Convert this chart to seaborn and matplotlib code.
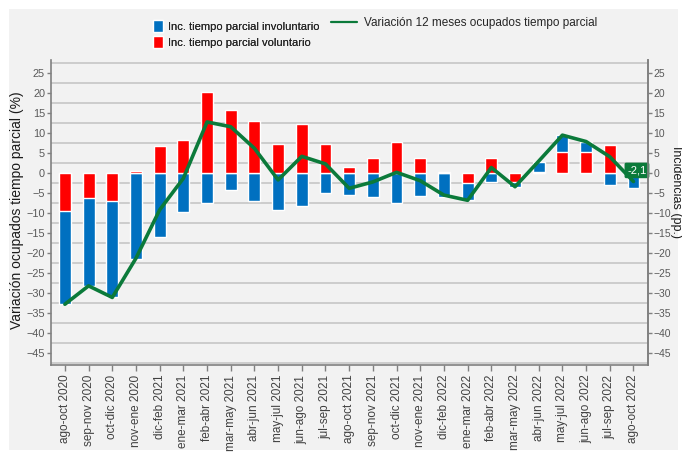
# -*- coding: utf-8 -*-
import numpy as np
import matplotlib
matplotlib.use("Agg")
import matplotlib.pyplot as plt
from matplotlib.patches import Patch, Rectangle
from matplotlib.lines import Line2D
import seaborn as sns

# Data
periodos = [
    "ago-oct 2020", "sep-nov 2020", "oct-dic 2020", "nov-ene 2020",
    "dic-feb 2021", "ene-mar 2021", "feb-abr 2021", "mar-may 2021",
    "abr-jun 2021", "may-jul 2021", "jun-ago 2021", "jul-sep 2021",
    "ago-oct 2021", "sep-nov 2021", "oct-dic 2021", "nov-ene 2021",
    "dic-feb 2022", "ene-mar 2022", "feb-abr 2022", "mar-may 2022",
    "abr-jun 2022", "may-jul 2022", "jun-ago 2022", "jul-sep 2022",
    "ago-oct 2022",
]
involuntario = [-23.4, -22.1, -24.2, -21.4, -15.9, -9.8, -7.5, -4.3,
                -6.9, -9.1, -8.1, -4.9, -5.4, -5.9, -7.4, -5.7,
                -5.9, -4.3, -2.3, -1.1, 2.5, 4.1, 2.4, -3.0, -3.8]
voluntario = [-9.4, -6.1, -6.9, 0.6, 6.8, 8.4, 20.3, 15.9,
              13.1, 7.4, 12.4, 7.3, 1.6, 3.8, 7.7, 3.8,
              0.4, -2.5, 3.7, -2.3, 0.4, 5.4, 5.4, 7.0, 1.7]
variacion_12m = [-32.8, -28.2, -31.1, -21.3, -9.2, -1.3, 12.8, 11.6,
                 6.2, -1.7, 4.2, 2.3, -3.8, -2.2, 0.2, -1.9,
                 -5.5, -6.8, 1.4, -3.4, 3.0, 9.5, 7.9, 4.1, -2.1]
ultimo_label = "-2,1"

AZUL = "#0070C0"
ROJO = "#FF0000"
VERDE = "#0B7A3A"
FONDO = "#F2F2F2"

sns.set_theme(style="white")
plt.rcParams["font.family"] = ["Liberation Sans", "DejaVu Sans"]

fig = plt.figure(figsize=(6.82, 4.57), dpi=100, facecolor="white")
fig.patches.append(Rectangle((9 / 682, 1 - 450 / 457), 669 / 682, 441 / 457,
                             transform=fig.transFigure, facecolor=FONDO,
                             edgecolor="none", zorder=-10))
ax = fig.add_axes([0.0743, 0.2013, 0.8754, 0.6674])
ax.set_facecolor(FONDO)

# diverging stack: red at the base, blue beyond it when both share sign
inv = np.array(involuntario)
vol = np.array(voluntario)
azul_tope = np.where(np.sign(inv) == np.sign(vol), inv + vol, inv)

sns.barplot(x=periodos, y=azul_tope, color=AZUL, saturation=1, width=0.5,
            ax=ax, zorder=3)
sns.barplot(x=periodos, y=vol, color=ROJO, saturation=1, width=0.5,
            ax=ax, zorder=3)
sns.lineplot(x=np.arange(len(periodos)), y=variacion_12m, color=VERDE,
             lw=2.6, ax=ax, zorder=5)

ax.set_xlim(-0.6, len(periodos) - 0.4)
ax.set_ylim(-48, 28.3)
ax.set_yticks(np.arange(-45, 30, 5))
ax.set_yticks(np.arange(-47.5, 30, 5), minor=True)
ax.grid(False)
ax.grid(which="minor", axis="y", color="#C6C6C6", lw=1.2, zorder=0)
ax.set_axisbelow(True)

ax.set_xticks(range(len(periodos)))
ax.set_xticklabels(periodos, rotation=90, fontsize=8.5, color="#404040", va="top")
ax.tick_params(axis="x", length=4, width=1, color="#808080", pad=3, bottom=True)
ax.tick_params(axis="y", which="major", length=3, width=1, color="#808080",
               labelsize=7.8, labelcolor="#595959", pad=1, left=True)
ax.tick_params(axis="y", which="minor", length=0)
ax.set_xlabel("")
ax.set_ylabel("")

ax.spines["top"].set_visible(False)
for s in ["left", "bottom", "right"]:
    ax.spines[s].set_color("#808080")
    ax.spines[s].set_linewidth(1.2)

ax2 = ax.twinx()
ax2.set_ylim(ax.get_ylim())
ax2.set_yticks(np.arange(-45, 30, 5))
ax2.grid(False)
ax2.tick_params(axis="y", length=3, width=1, color="#808080", labelsize=7.5,
                labelcolor="#595959", pad=1, right=True)
for s in ["top", "left", "bottom"]:
    ax2.spines[s].set_visible(False)
ax2.spines["right"].set_color("#808080")
ax2.spines["right"].set_linewidth(1.2)

# last value label
ax.annotate(ultimo_label, xy=(len(periodos) - 1, variacion_12m[-1]),
            xytext=(2.5, 8), textcoords="offset points", ha="center", va="center",
            color="white", fontsize=8, zorder=10, annotation_clip=False,
            bbox=dict(boxstyle="round,pad=0.25,rounding_size=0.15",
                      fc=VERDE, ec="none"))

fig.text(17 / 682, 1 - 210 / 457, "Variación ocupados tiempo parcial (%)",
         rotation=90, ha="center", va="center", fontsize=10, color="#1a1a1a")
fig.text(675.5 / 682, 1 - 192 / 457, "Incidencias (pp.)", rotation=-90,
         ha="center", va="center", fontsize=9, color="#1a1a1a")

h1 = [Patch(facecolor=AZUL, label="Inc. tiempo parcial involuntario"),
      Patch(facecolor=ROJO, label="Inc. tiempo parcial voluntario")]
leg1 = fig.legend(handles=h1, loc="upper left", bbox_to_anchor=(153 / 682, 1 - 20 / 457),
                  frameon=False, fontsize=8, handlelength=0.9, handleheight=1.35,
                  handletextpad=0.45, labelspacing=0.28, borderpad=0, borderaxespad=0)
h2 = [Line2D([], [], color=VERDE, lw=1.6, label="Variación 12 meses ocupados tiempo parcial")]
fig.legend(handles=h2, loc="upper left", bbox_to_anchor=(331 / 682, 1 - 17 / 457),
           frameon=False, fontsize=8.5, handlelength=2.2, handletextpad=0.6,
           borderpad=0, borderaxespad=0)
fig.add_artist(leg1)

fig.savefig("out.png", dpi=100, facecolor="white")
